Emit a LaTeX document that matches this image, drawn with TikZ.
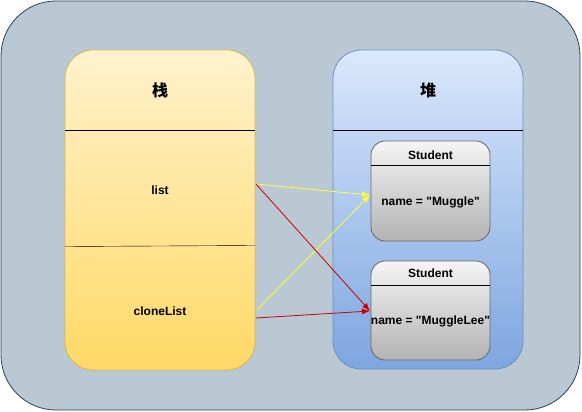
\documentclass[tikz,border=0pt]{standalone}
\usepackage{fontspec}
\setmainfont{Liberation Sans}[Ligatures=TeXOff]
\newfontfamily\cjk{Noto Sans CJK SC}
\usetikzlibrary{arrows.meta}

\definecolor{outerfill}{HTML}{BAC8D3}
\definecolor{outerline}{HTML}{23445D}
\definecolor{stacktop}{HTML}{FFF2CC}
\definecolor{stackbot}{HTML}{FFD966}
\definecolor{stackline}{HTML}{D6B656}
\definecolor{heaptop}{HTML}{DAE8FC}
\definecolor{heapbot}{HTML}{7EA6E0}
\definecolor{heapline}{HTML}{6C8EBF}
\definecolor{stutop}{HTML}{F5F5F5}
\definecolor{stubot}{HTML}{B3B3B3}
\definecolor{stuline}{HTML}{666666}
\definecolor{refyellow}{HTML}{FFFF33}
\definecolor{refred}{HTML}{CC0000}

\tikzset{
	area/.style={rounded corners=28pt, inner sep=0pt, line width=0.8pt},
	stubox/.style={rounded corners=14pt, inner sep=0pt, draw=stuline, line width=0.8pt,
		top color=stutop, bottom color=stubot, minimum width=119pt},
	lbl/.style={font=\bfseries\fontsize{12}{14}\selectfont},
	ref/.style={line width=0.8pt, -{Latex[length=8pt,width=6pt]}},
}

\begin{document}
\begin{tikzpicture}[x=1pt,y=-1pt]
	\useasboundingbox (0,0) rectangle (582,412);
	% background
	\node[draw=outerline, fill=outerfill, rounded corners=55pt, line width=0.8pt,
		minimum width=579pt, minimum height=409pt] (back) at (290.5,205.5) {};
	
	% stack
	\node[area, draw=stackline, top color=stacktop, bottom color=stackbot,
		minimum width=190pt, minimum height=320pt] (stack) at (160,210) {};
	\node[font=\cjk\bfseries\fontsize{16}{18}\selectfont] (stacktitle) at (160,90) {栈};
	\draw (65,130) -- (255,130);
	\draw (65,246.5) -- (255,245.5);
	\node[lbl] (list) at (160,190) {list};
	\node[lbl] (clonelist) at (160,311) {cloneList};
	
	% heap
	\node[area, draw=heapline, top color=heaptop, bottom color=heapbot,
		minimum width=190pt, minimum height=319pt] (heap) at (428,209.5) {};
	\node[font=\cjk\bfseries\fontsize{16}{18}\selectfont] (heaptitle) at (428,90) {堆};
	\draw (333,130) -- (523,130);
	
	% student objects
	\node[stubox, minimum height=100pt] (stu1) at (430.5,191) {};
	\draw (371,165) -- (490,165);
	\node[lbl] (stu1name) at (430.5,155) {Student};
	\node[lbl] (stu1val) at (430.5,202) {name = "Muggle"};
	
	\node[stubox, minimum height=99pt] (stu2) at (430.5,310.5) {};
	\draw (371,285) -- (490,285);
	\node[lbl] (stu2name) at (430.5,273) {Student};
	\node[lbl] (stu2val) at (430.5,321) {name = "MuggleLee"};
	
	% references
	\coordinate (listout) at (256,184);
	\coordinate (cloneout) at (257,310);
	\coordinate (cloneout2) at (256,318);
	\coordinate (stu1in) at (370,195);
	\coordinate (stu2in) at (370,311);
	\draw[ref, refyellow] (listout) -- (stu1in);
	\draw[ref, refyellow] (cloneout) -- (stu1in);
	\draw[ref, refred] (listout) -- (stu2in);
	\draw[ref, refred] (cloneout2) -- (stu2in);
\end{tikzpicture}
\end{document}
